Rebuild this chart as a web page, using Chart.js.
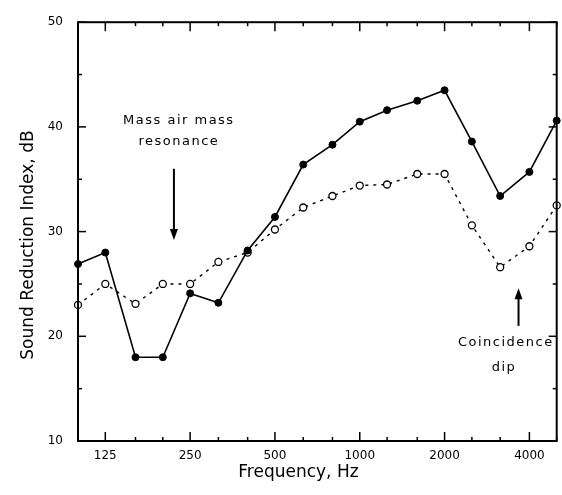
<!DOCTYPE html>
<html>
<head>
<meta charset="utf-8">
<script src="https://cdn.jsdelivr.net/npm/chart.js@4.4.1/dist/chart.umd.min.js"></script>
<style>
  html, body { margin: 0; padding: 0; background: #fff; }
  #wrap { width: 562px; height: 495px; position: relative; }
</style>
</head>
<body>
<div id="wrap"><canvas id="c" width="562" height="495"></canvas></div>
<script>
// ---- data ----
const bands = [100, 125, 160, 200, 250, 315, 400, 500, 630, 800, 1000, 1250, 1600, 2000, 2500, 3150, 4000, 5000];
const solidSeries = [26.9, 28.0, 18.0, 18.0, 24.1, 23.2, 28.2, 31.4, 36.4, 38.3, 40.5, 41.6, 42.5, 43.5, 38.6, 33.4, 35.7, 40.6];
const dottedSeries = [23.0, 25.0, 23.1, 25.0, 25.0, 27.1, 28.0, 30.2, 32.3, 33.4, 34.4, 34.5, 35.5, 35.5, 30.6, 26.6, 28.6, 32.5];
const xTickLabels = [125, 250, 500, 1000, 2000, 4000];
const yTickLabels = [10, 20, 30, 40, 50];
const yMinorTicks = [15, 25, 35, 45];

const FONT = "'DejaVu Sans', 'Liberation Sans', sans-serif";

const toPoints = vals => bands.map((f, i) => ({ x: f, y: vals[i] }));

const frameAndNotes = {
  id: 'frameAndNotes',
  afterDatasetsDraw(chart) {
    const { ctx, chartArea: a, scales: { x, y } } = chart;
    ctx.save();
    ctx.strokeStyle = '#000';
    ctx.fillStyle = '#000';
    ctx.lineCap = 'butt';
    const line = (x1, y1, x2, y2) => { ctx.beginPath(); ctx.moveTo(x1, y1); ctx.lineTo(x2, y2); ctx.stroke(); };
    // frame
    ctx.lineWidth = 2;
    ctx.strokeRect(a.left, a.top, a.right - a.left, a.bottom - a.top);
    // x ticks (major at labelled bands, minor at each third-octave band)
    ctx.lineWidth = 1.5;
    bands.forEach(f => {
      const px = x.getPixelForValue(f);
      const len = xTickLabels.includes(f) ? 9 : 4;
      line(px, a.bottom, px, a.bottom - len);
      line(px, a.top, px, a.top + len);
    });
    // y ticks
    yTickLabels.forEach(v => {
      const py = y.getPixelForValue(v);
      line(a.left, py, a.left + 8, py);
      line(a.right, py, a.right - 8, py);
    });
    yMinorTicks.forEach(v => {
      const py = y.getPixelForValue(v);
      line(a.left, py, a.left + 4, py);
      line(a.right, py, a.right - 4, py);
    });

    // annotations
    ctx.font = '13px ' + FONT;
    if ('letterSpacing' in ctx) ctx.letterSpacing = '1.5px';
    ctx.textAlign = 'center';
    ctx.textBaseline = 'middle';
    ctx.fillText('Mass air mass', x.getPixelForValue(228), y.getPixelForValue(40.6));
    ctx.fillText('resonance', x.getPixelForValue(228), y.getPixelForValue(38.6));
    ctx.fillText('Coincidence', x.getPixelForValue(3300), y.getPixelForValue(19.4));
    ctx.fillText('dip', x.getPixelForValue(3250), y.getPixelForValue(17.0));

    const arrow = (f, v1, v2) => {
      const px = x.getPixelForValue(f);
      const p1 = y.getPixelForValue(v1), p2 = y.getPixelForValue(v2);
      const dir = Math.sign(p2 - p1);
      ctx.lineWidth = 2;
      line(px, p1, px, p2 - dir * 8);
      ctx.beginPath();
      ctx.moveTo(px, p2);
      ctx.lineTo(px - 4, p2 - dir * 11);
      ctx.lineTo(px + 4, p2 - dir * 11);
      ctx.closePath();
      ctx.fill();
    };
    arrow(219, 36.0, 29.2);
    arrow(3660, 21.0, 24.6);
    ctx.restore();
  }
};

new Chart(document.getElementById('c'), {
  type: 'line',
  data: {
    datasets: [
      {
        label: 'Solid',
        data: toPoints(solidSeries),
        borderColor: '#000',
        backgroundColor: '#000',
        borderWidth: 1.6,
        pointRadius: 3.5,
        pointBorderWidth: 1,
        pointBackgroundColor: '#000',
        pointBorderColor: '#000',
        tension: 0,
        clip: 8
      },
      {
        label: 'Dotted',
        data: toPoints(dottedSeries),
        borderColor: '#000',
        backgroundColor: '#fff',
        borderWidth: 1.4,
        borderDash: [3, 5],
        pointRadius: 3.5,
        pointBorderWidth: 1.3,
        pointBackgroundColor: '#fff',
        pointBorderColor: '#000',
        tension: 0,
        clip: 8
      }
    ]
  },
  options: {
    responsive: false,
    animation: false,
    devicePixelRatio: 1,
    layout: { padding: { top: 18, right: 5, left: 0, bottom: 0 } },
    plugins: { legend: { display: false }, tooltip: { enabled: false } },
    scales: {
      x: {
        type: 'logarithmic',
        min: 100,
        max: 5000,
        afterBuildTicks: s => { s.ticks = xTickLabels.map(v => ({ value: v })); },
        afterFit: s => { s.height = 54; },
        grid: { display: false, drawTicks: false },
        border: { display: false },
        ticks: {
          color: '#000',
          font: { family: FONT, size: 12 },
          padding: 8,
          maxRotation: 0,
          autoSkip: false,
          callback: v => String(v)
        },
        title: {
          display: true,
          text: 'Frequency, Hz       ',
          color: '#000',
          font: { family: FONT, size: 17 },
          padding: { top: 0, bottom: 12 }
        }
      },
      y: {
        type: 'linear',
        min: 10,
        max: 50,
        afterBuildTicks: s => { s.ticks = yTickLabels.map(v => ({ value: v })); },
        afterFit: s => { s.width = 78; },
        grid: { display: false, drawTicks: false },
        border: { display: false },
        ticks: {
          color: '#000',
          font: { family: FONT, size: 12 },
          padding: 15
        },
        title: {
          display: true,
          text: 'Sound Reduction Index, dB     ',
          color: '#000',
          font: { family: FONT, size: 17 },
          padding: { top: 18, bottom: 0 }
        }
      }
    }
  },
  plugins: [frameAndNotes]
});
</script>
</body>
</html>
